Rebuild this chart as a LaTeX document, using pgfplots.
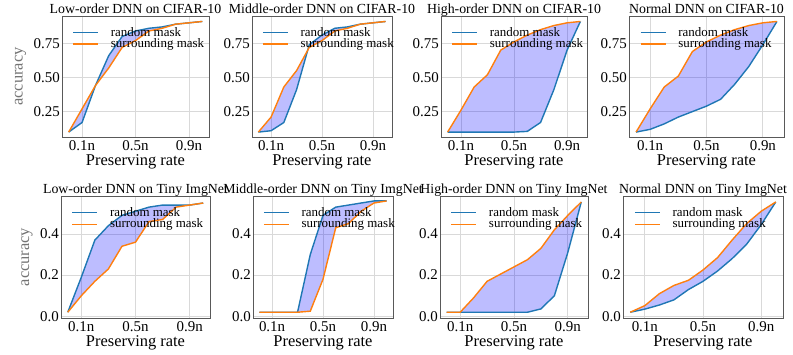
\documentclass[border=0pt]{standalone}
\usepackage{pgfplots}
\pgfplotsset{compat=1.18}
\usepgfplotslibrary{fillbetween}
\usepackage{fontspec}
\setmainfont{Liberation Serif}
\definecolor{mblue}{RGB}{31,119,180}
\definecolor{morange}{RGB}{255,127,14}
\definecolor{band}{RGB}{0,0,255}

% columns: preserving rate, random mask, surrounding mask
\pgfplotstableread{
x   r     s
0.0 0.10  0.10
0.1 0.17  0.27
0.2 0.44  0.44
0.3 0.66  0.57
0.4 0.80  0.72
0.5 0.84  0.77
0.6 0.86  0.84
0.7 0.87  0.86
0.8 0.89  0.89
0.9 0.90  0.90
1.0 0.91  0.91
}\lowcifar
\pgfplotstableread{
x   r     s
0.0 0.10  0.10
0.1 0.11  0.21
0.2 0.17  0.43
0.3 0.41  0.55
0.4 0.74  0.72
0.5 0.81  0.77
0.6 0.86  0.84
0.7 0.87  0.86
0.8 0.89  0.89
0.9 0.90  0.90
1.0 0.91  0.91
}\midcifar
\pgfplotstableread{
x   r     s
0.0 0.10  0.10
0.1 0.10  0.26
0.2 0.10  0.43
0.3 0.10  0.52
0.4 0.10  0.70
0.5 0.10  0.76
0.6 0.105 0.81
0.7 0.17  0.85
0.8 0.41  0.88
0.9 0.70  0.90
1.0 0.91  0.91
}\highcifar
\pgfplotstableread{
x   r     s
0.0 0.10  0.10
0.1 0.12  0.27
0.2 0.16  0.43
0.3 0.21  0.51
0.4 0.25  0.69
0.5 0.29  0.76
0.6 0.34  0.81
0.7 0.45  0.85
0.8 0.58  0.88
0.9 0.74  0.90
1.0 0.91  0.91
}\normcifar
\pgfplotstableread{
x   r     s
0.0 0.02  0.02
0.1 0.19  0.10
0.2 0.37  0.17
0.3 0.44  0.23
0.4 0.49  0.34
0.5 0.51  0.36
0.6 0.53  0.46
0.7 0.54  0.47
0.8 0.54  0.53
0.9 0.54  0.54
1.0 0.55  0.55
}\lowtiny
\pgfplotstableread{
x   r     s
0.0 0.02  0.02
0.1 0.02  0.02
0.2 0.02  0.02
0.3 0.02  0.02
0.4 0.30  0.025
0.5 0.49  0.18
0.6 0.53  0.43
0.7 0.54  0.45
0.8 0.55  0.51
0.9 0.56  0.55
1.0 0.56  0.56
}\midtiny
\pgfplotstableread{
x   r     s
0.0 0.02  0.02
0.1 0.02  0.02
0.2 0.02  0.09
0.3 0.02  0.17
0.4 0.02  0.205
0.5 0.02  0.24
0.6 0.02  0.275
0.7 0.036 0.33
0.8 0.10  0.42
0.9 0.31  0.49
1.0 0.555 0.555
}\hightiny
\pgfplotstableread{
x   r     s
0.0 0.02  0.02
0.1 0.035 0.052
0.2 0.055 0.11
0.3 0.08  0.15
0.4 0.13  0.175
0.5 0.17  0.225
0.6 0.22  0.285
0.7 0.28  0.37
0.8 0.35  0.45
0.9 0.445 0.51
1.0 0.555 0.555
}\normtiny

\pgfplotsset{
  panel/.style={
    scale only axis, anchor=south west,
    xmin=-0.05, xmax=1.05,
    xtick={0.1,0.5,0.9}, xticklabels={0.1n,0.5n,0.9n},
    grid=major, major grid style={black!15, line width=0.8pt},
    axis line style={black!65, line width=0.8pt},
    major tick length=0pt,
    tick label style={font=\fontsize{15}{17}\selectfont},
    xticklabel style={inner sep=1pt, yshift=-2pt},
    yticklabel style={inner sep=1pt, xshift=-1pt},
    /pgf/number format/assume math mode=true,
    /pgf/number format/fixed,
    /pgf/number format/fixed zerofill,
    title style={font=\fontsize{13.9}{15}\selectfont, at={(0.5,1)},
      anchor=base, yshift=-3.5pt},
    xlabel={Preserving rate},
    xlabel style={font=\fontsize{16.5}{18}\selectfont, inner sep=0pt, yshift=-3pt},
    ylabel style={font=\fontsize{16.5}{18}\selectfont, text=black!55},
    ylabel shift=3pt,
    legend style={draw=none, fill=none, font=\fontsize{13}{14}\selectfont,
      at={(0.05,0.94)}, anchor=north west, row sep=-3pt},
    legend cell align=left,
    legend image code/.code={\draw[##1] (0bp,0bp) -- (25bp,0bp); \path (35bp,0bp);},
  },
  cifar/.style={ymin=0.064, ymax=0.95, ytick={0.25,0.5,0.75},
    /pgf/number format/precision=2},
  tiny/.style={ymin=-0.008, ymax=0.584, ytick={0,0.2,0.4},
    /pgf/number format/precision=1},
  rline/.style={mblue, line width=1.4bp},
  sline/.style={morange, line width=1.4bp},
}

\newcommand{\panel}[2]{%
  \addplot[rline, name path=r#2] table[x=x, y=r]{#1};
  \addlegendentry{random mask}
  \addplot[sline, name path=s#2] table[x=x, y=s]{#1};
  \addlegendentry{surrounding mask}
  \addplot[band, fill opacity=0.26, draw=none] fill between[of=r#2 and s#2];
}

\begin{document}
\begin{tikzpicture}
\begin{axis}[panel, cifar, at={(62bp,218bp)}, width=147bp, height=121bp,
  title={Low-order DNN on CIFAR-10}, ylabel={accuracy}]
\panel{\lowcifar}{a}
\end{axis}
\begin{axis}[panel, cifar, at={(252bp,218bp)}, width=140bp, height=121bp,
  title={Middle-order DNN on CIFAR-10}]
\panel{\midcifar}{b}
\end{axis}
\begin{axis}[panel, cifar, at={(441bp,218bp)}, width=146bp, height=121bp,
  title={High-order DNN on CIFAR-10}]
\panel{\highcifar}{c}
\end{axis}
\begin{axis}[panel, cifar, at={(629bp,218bp)}, width=155bp, height=121bp,
  title={Normal DNN on CIFAR-10}]
\panel{\normcifar}{d}
\end{axis}

\begin{axis}[panel, tiny, at={(61bp,37bp)}, width=149bp, height=122bp,
  title={Low-order DNN on Tiny ImgNet}, ylabel={accuracy}]
\panel{\lowtiny}{e}
\end{axis}
\begin{axis}[panel, tiny, at={(253bp,37bp)}, width=140bp, height=122bp,
  title={Middle-order DNN on Tiny ImgNet}]
\panel{\midtiny}{f}
\end{axis}
\begin{axis}[panel, tiny, at={(440bp,37bp)}, width=148bp, height=122bp,
  title={High-order DNN on Tiny ImgNet}]
\panel{\hightiny}{g}
\end{axis}
\begin{axis}[panel, tiny, at={(623bp,37bp)}, width=160bp, height=122bp,
  title={Normal DNN on Tiny ImgNet}]
\panel{\normtiny}{h}
\end{axis}
\pgfresetboundingbox
\path (0bp,0bp) rectangle (793bp,355bp);
\end{tikzpicture}
\end{document}
